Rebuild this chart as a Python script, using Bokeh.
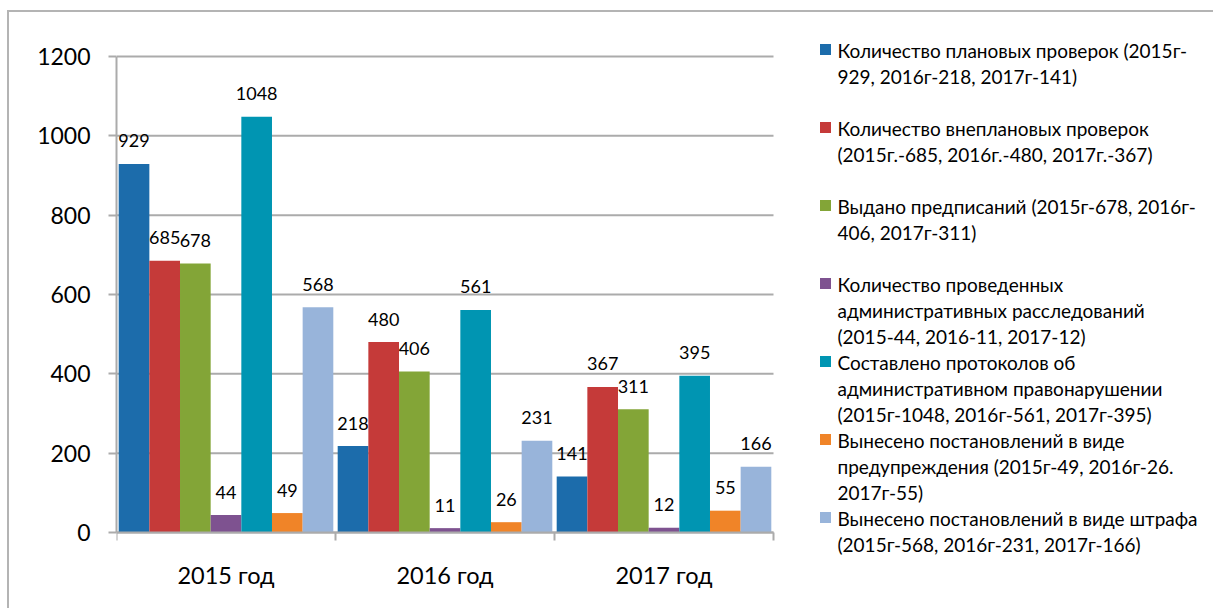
from bokeh.plotting import figure
from bokeh.models import ColumnDataSource, Range1d, FixedTicker
from bokeh.transform import dodge
from bokeh.core.properties import value
from bokeh.embed import file_html
from bokeh.resources import INLINE

# ---- data ----
years = ["2015 год", "2016 год", "2017 год"]
planned = [929, 218, 141]
unplanned = [685, 480, 367]
orders = [678, 406, 311]
investigations = [44, 11, 12]
protocols = [1048, 561, 395]
warnings = [49, 26, 55]
fines = [568, 231, 166]

series_names = [
    "Количество плановых проверок (2015г-\n929, 2016г-218, 2017г-141)",
    "Количество внеплановых проверок\n(2015г.-685, 2016г.-480, 2017г.-367)",
    "Выдано предписаний (2015г-678, 2016г-\n406, 2017г-311)",
    "Количество проведенных\nадминистративных расследований\n(2015-44, 2016-11, 2017-12)",
    "Составлено протоколов об\nадминистративном правонарушении\n(2015г-1048, 2016г-561, 2017г-395)",
    "Вынесено постановлений в виде\nпредупреждения (2015г-49, 2016г-26.\n2017г-55)",
    "Вынесено постановлений в виде штрафа\n(2015г-568, 2016г-231, 2017г-166)",
]
y_ticks = [0, 200, 400, 600, 800, 1000, 1200]

# ---- style / layout ----
colors = ["#1C6CAB", "#C53A39", "#83A537", "#7E5290", "#0095B2", "#F08428", "#98B4DA"]
FONT = "Lato"
GRAY = "#ABABAB"

W, H = 1206, 598
LEFT = 107            # frame left (canvas px)
PX_X = 219.0          # px per category
Y0, Y1200 = 520, 44   # canvas px of y=0 and y=1200
PPU = (Y0 - Y1200) / 1200.0
ORIG_X, ORIG_Y = 9, 12  # canvas origin on page


def dx(page_x):
    return (page_x - ORIG_X - LEFT) / PX_X


def dy(page_y):
    return (Y0 - (page_y - ORIG_Y)) / PPU


xs = [i + 0.5 for i in range(len(years))]
series = [planned, unplanned, orders, investigations, protocols, warnings, fines]
cols = ["s%d" % k for k in range(len(series))]
data = {"x": xs}
for c, s in zip(cols, series):
    data[c] = s
    data[c + "_t"] = [str(v) for v in s]
src = ColumnDataSource(data)

p = figure(width=W, height=H, output_backend="svg", toolbar_location=None,
           x_range=Range1d(0, (W - LEFT) / PX_X),
           y_range=Range1d(-(H - Y0) / PPU, 1200 + Y1200 / PPU),
           min_border_left=LEFT, min_border_right=0, min_border_top=0,
           min_border_bottom=0)
p.styles = {"border-top": "2px solid #B4B4B4", "border-left": "2px solid #B4B4B4",
            "margin-top": "10px", "margin-left": "7px"}
p.outline_line_color = None
p.background_fill_color = "white"
p.border_fill_color = "white"
p.xgrid.visible = False
p.ygrid.visible = False

ncat = len(years)
# horizontal gridlines (limited to plot area)
p.segment(x0=[0] * len(y_ticks), x1=[ncat] * len(y_ticks), y0=y_ticks, y1=y_ticks,
          line_color=GRAY, line_width=2)

bw = 0.14
for k, c in enumerate(cols):
    off = (k - 3) * bw
    p.vbar(x=dodge("x", off), top=c, width=bw, source=src,
           fill_color=colors[k], line_color=None)
    p.text(x=dodge("x", off), y=c, text=c + "_t", source=src,
           text_align="center", text_baseline="middle", y_offset=-23,
           text_font=value(FONT), text_font_size="18px", text_color="black")

# axes
p.xaxis.fixed_location = 0
p.xaxis.bounds = (0, ncat)
p.xaxis.ticker = FixedTicker(ticks=xs, minor_ticks=list(range(ncat + 1)))
p.xaxis.major_label_overrides = {x: y for x, y in zip(xs, years)}
p.xaxis.major_tick_line_color = None
p.xaxis.minor_tick_line_color = GRAY
p.xaxis.minor_tick_line_width = 2
p.xaxis.minor_tick_out = 8
p.xaxis.minor_tick_in = 0
p.xaxis.axis_line_color = GRAY
p.xaxis.axis_line_width = 2
p.xaxis.major_label_standoff = 20
p.xaxis.major_label_text_font = FONT
p.xaxis.major_label_text_font_size = "23.5px"
p.xaxis.major_label_text_color = "black"

p.yaxis.bounds = (0, 1200)
p.yaxis.ticker = FixedTicker(ticks=y_ticks)
p.yaxis.major_tick_line_color = GRAY
p.yaxis.major_tick_line_width = 2
p.yaxis.major_tick_out = 8
p.yaxis.major_tick_in = 0
p.yaxis.minor_tick_line_color = None
p.yaxis.axis_line_color = GRAY
p.yaxis.axis_line_width = 2
p.yaxis.major_label_standoff = 18
p.yaxis.major_label_text_font = FONT
p.yaxis.major_label_text_font_size = "23px"
p.yaxis.major_label_text_color = "black"

# ---- legend (drawn manually to mimic the Excel layout) ----
first_line_y = [50, 128, 206, 284, 362, 440, 518]   # page px, layout only
LINE = 26
sq_x, sq_y, sq_c = [], [], []
tx, ty, tt = [], [], []
for k, name in enumerate(series_names):
    sq_x.append(dx(825))
    sq_y.append(dy(first_line_y[k] - 1))
    sq_c.append(colors[k])
    for j, line in enumerate(name.split("\n")):
        tx.append(dx(837))
        ty.append(dy(first_line_y[k] + j * LINE))
        tt.append(line)
p.scatter(x=sq_x, y=sq_y, marker="square", size=11, fill_color=sq_c, line_color=None)
p.text(x=tx, y=ty, text=tt, text_align="left", text_baseline="middle",
       text_font=value(FONT), text_font_size="19px", text_color="black")

open("out.html", "w").write(file_html(p, INLINE))
